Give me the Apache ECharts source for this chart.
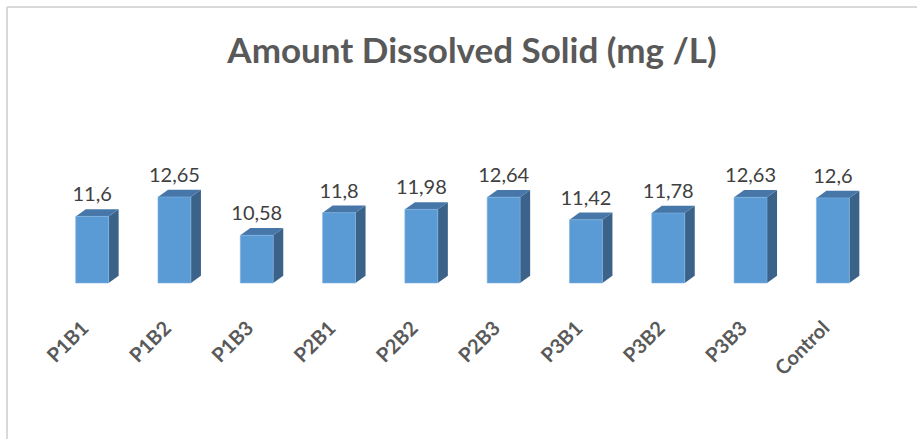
<!DOCTYPE html>
<html>
<head>
<meta charset="utf-8">
<script src="https://cdn.jsdelivr.net/npm/echarts@6/dist/echarts.min.js"></script>
<style>
html,body{margin:0;padding:0;background:#fff;}
#c{width:917px;height:439px;}
</style>
</head>
<body>
<div id="c"></div>
<script>
const titleText = 'Amount Dissolved Solid (mg /L)';
const categories = ['P1B1','P1B2','P1B3','P2B1','P2B2','P2B3','P3B1','P3B2','P3B3','Control'];
const values = [11.6, 12.65, 10.58, 11.8, 11.98, 12.64, 11.42, 11.78, 12.63, 12.6];
const yMin = 8;
const yMax = 14;

const chart = echarts.init(document.getElementById('c'), null, {renderer: 'svg'});

function renderBar(params, api) {
  const i = api.value(0);
  const v = api.value(1);
  const top = api.coord([i, v]);
  const base = api.coord([i, yMin]);
  const band = api.size([1, 0])[0];
  const w = band * 0.40;
  const dx = band * 0.122;
  const dy = dx * 0.72;
  const x0 = top[0] - w / 2, x1 = x0 + w;
  const yt = top[1], yb = base[1];
  return {
    type: 'group',
    children: [
      {type: 'polygon', shape: {points: [[x1, yt], [x1 + dx, yt - dy], [x1 + dx, yb - dy], [x1, yb]]},
       style: {fill: '#3B6389'}},
      {type: 'polygon', shape: {points: [[x0, yt], [x0 + dx, yt - dy], [x1 + dx, yt - dy], [x1, yt]]},
       style: {fill: '#4677A8'}},
      {type: 'rect', shape: {x: x0, y: yt, width: w, height: yb - yt},
       style: {fill: '#5B9BD5', stroke: '#7FB1E0', lineWidth: 0.6}},
      {type: 'text', x: top[0], y: yt - 13,
       style: {text: String(v).replace('.', ','), fontFamily: 'Lato', fontSize: 20, fill: '#404040',
               align: 'center', verticalAlign: 'bottom'}}
    ]
  };
}

chart.setOption({
  backgroundColor: '#ffffff',
  animation: false,
  title: {
    text: titleText,
    left: 467,
    top: 26,
    textAlign: 'center',
    textStyle: {fontFamily: 'Lato', fontWeight: 'bold', fontSize: 35, color: '#595959'}
  },
  graphic: [
    {type: 'line', shape: {x1: 7, y1: 7, x2: 917, y2: 7}, style: {stroke: '#D9D9D9', lineWidth: 2}},
    {type: 'line', shape: {x1: 7, y1: 7, x2: 7, y2: 439}, style: {stroke: '#D9D9D9', lineWidth: 2}}
  ],
  grid: {left: 51, right: 43, top: 172, bottom: 156, containLabel: false},
  xAxis: {
    type: 'category',
    data: categories,
    boundaryGap: true,
    axisLine: {show: false},
    axisTick: {show: false},
    splitLine: {show: false},
    axisLabel: {rotate: 45, margin: 33, interval: 0, fontFamily: 'Lato', fontWeight: 'bold',
                fontSize: 20, color: '#595959', padding: [0, 11, 0, 0]}
  },
  yAxis: {type: 'value', min: yMin, max: yMax, show: false, splitLine: {show: false}},
  series: [{
    type: 'custom',
    renderItem: renderBar,
    encode: {x: 0, y: 1},
    data: values.map((v, i) => [i, v])
  }]
});
</script>
</body>
</html>
